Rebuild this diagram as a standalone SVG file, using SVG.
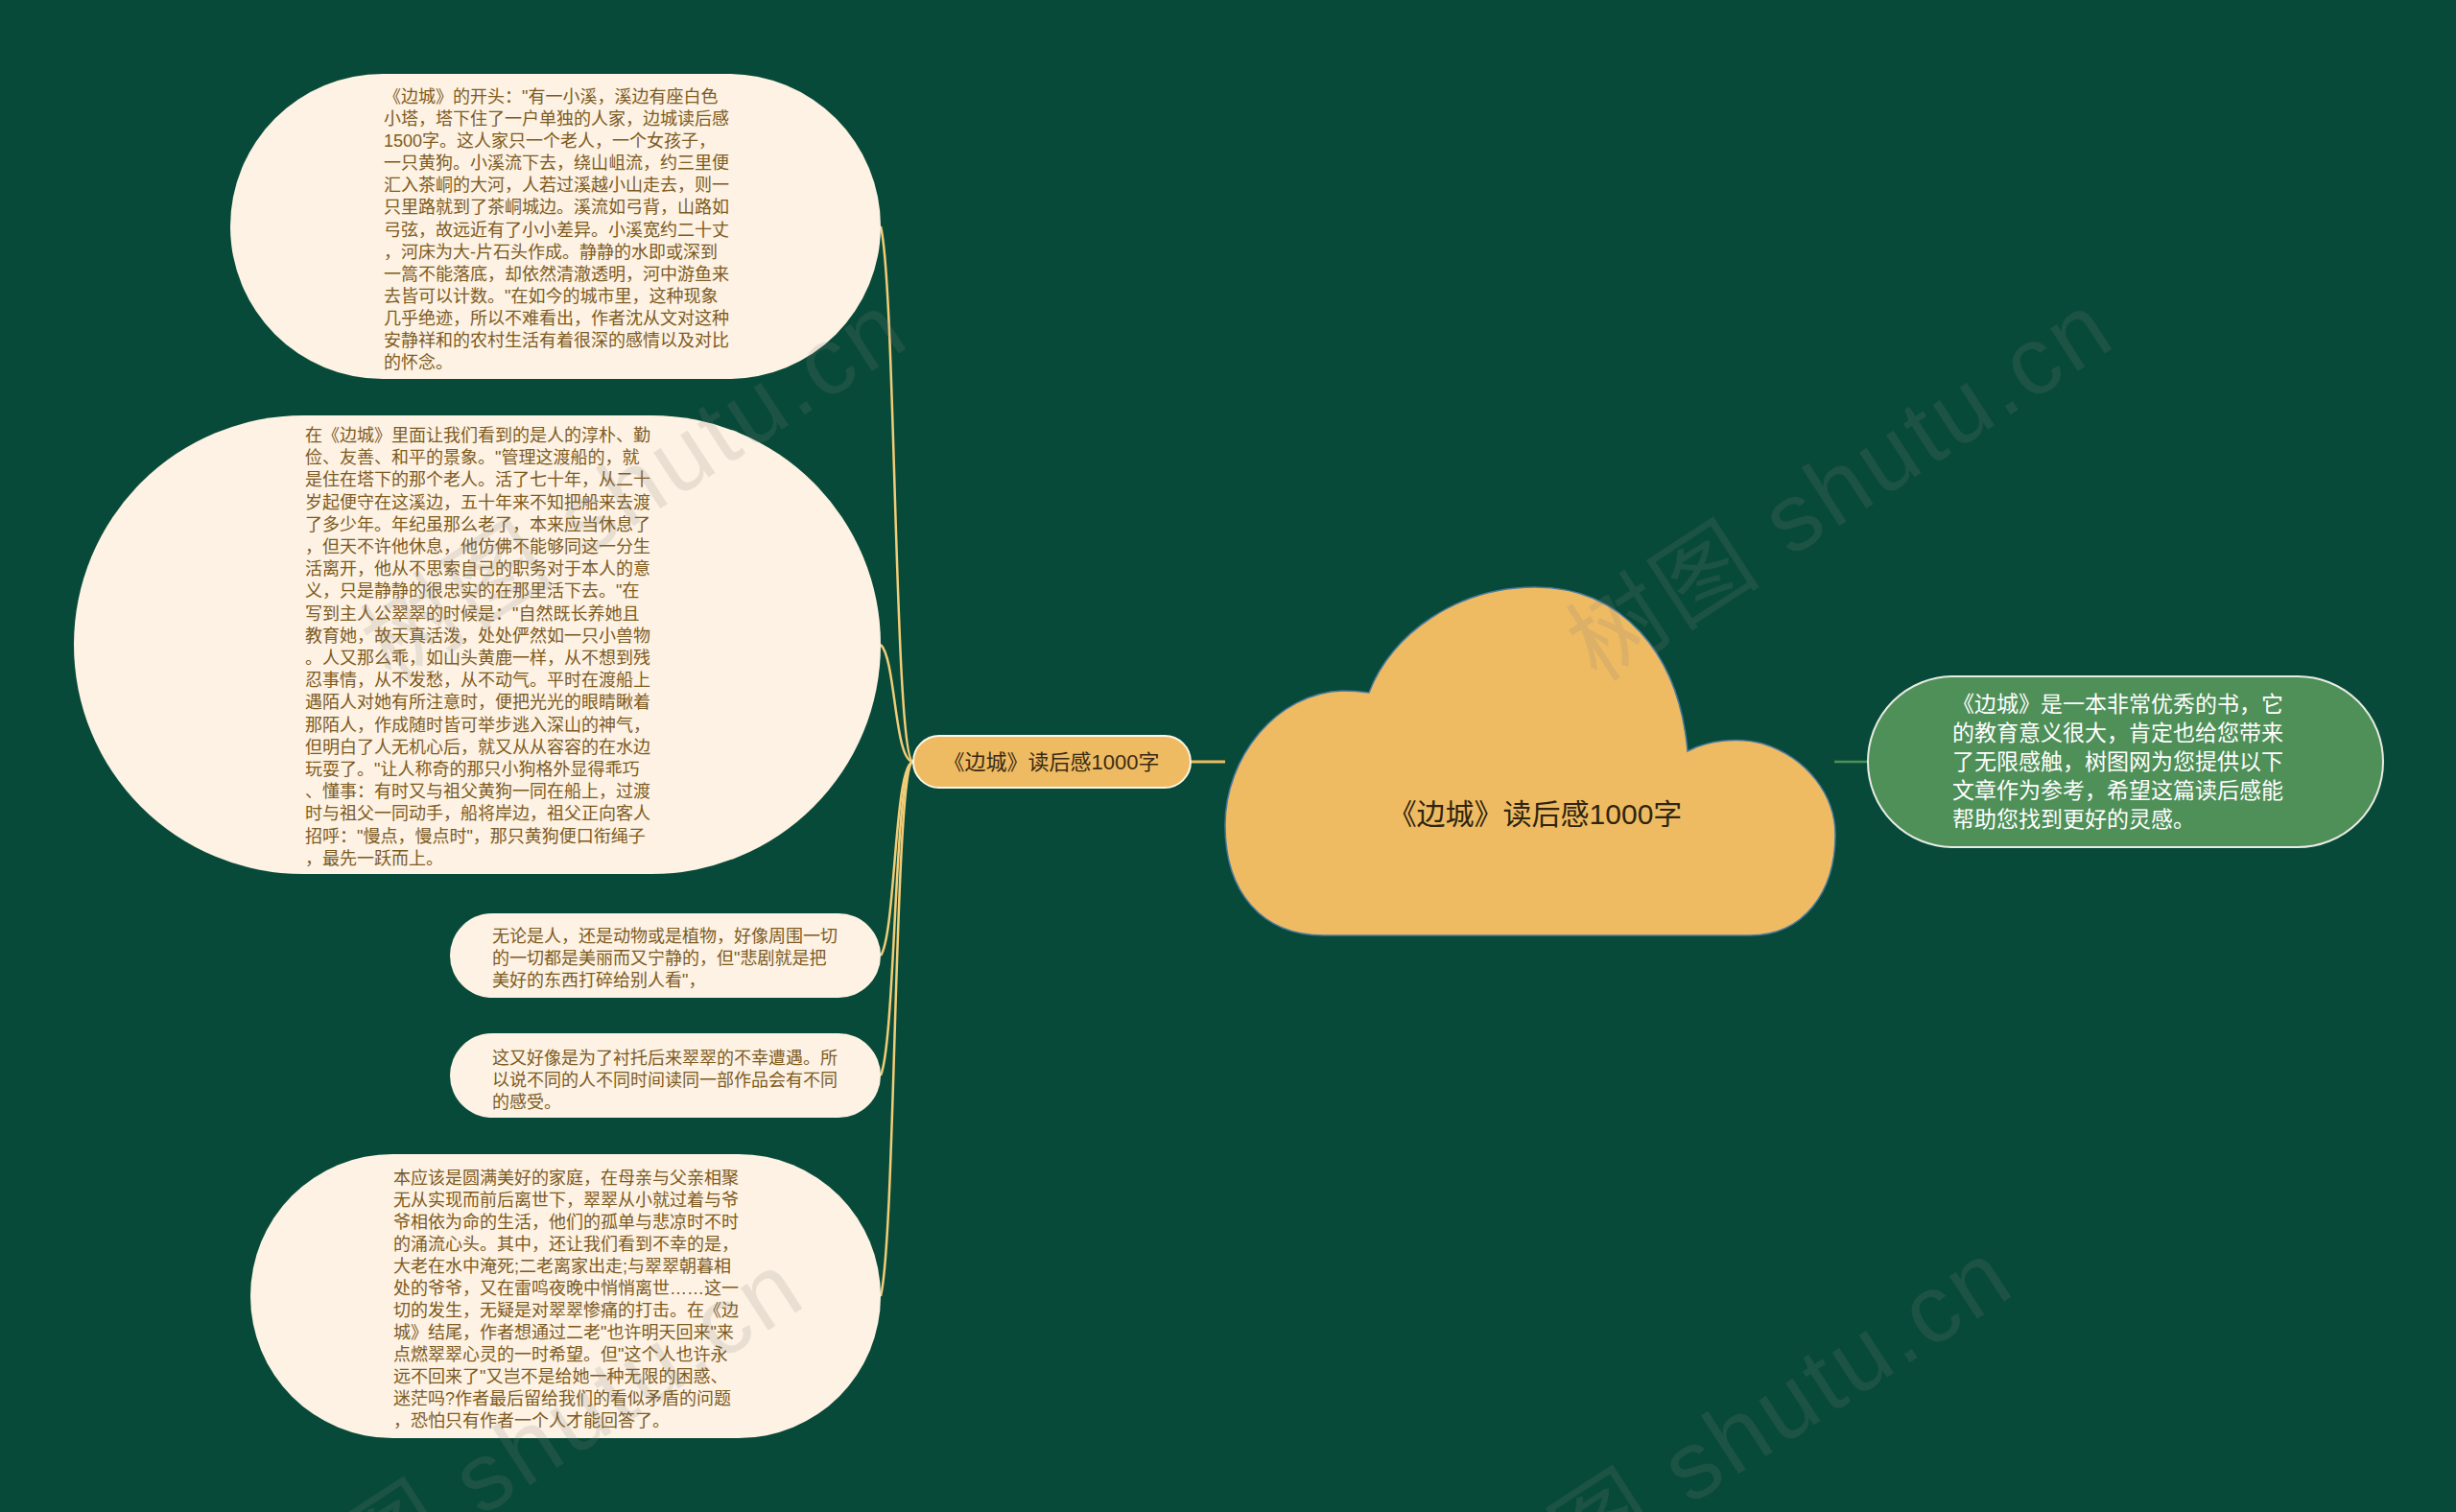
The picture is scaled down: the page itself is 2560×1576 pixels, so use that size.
<svg xmlns="http://www.w3.org/2000/svg" width="2560" height="1576" viewBox="0 0 2560 1576">
<style>
.t{font-family:"Liberation Sans","Noto Sans CJK SC",sans-serif}
.leaf{fill:#fdf2e3}
.lt{font-size:18px;fill:#7d5a1e}
.conn{fill:none;stroke:#f2cd78;stroke-width:2.5}
.wm{font-size:100px;letter-spacing:4px;fill:#808080;fill-opacity:0.17}
</style>
<rect x="0" y="0" width="2560" height="1576" fill="#084a39"/>
<g id="connectors">
<path class="conn" d="M952,794 C932,794 934,303 918,236"/>
<path class="conn" d="M952,794 C932,794 934,687 918,672"/>
<path class="conn" d="M952,794 C932,794 934,972 918,996"/>
<path class="conn" d="M952,794 C932,794 934,1082 918,1121"/>
<path class="conn" d="M952,794 C932,794 934,1284 918,1351"/>
<line x1="1241" y1="794" x2="1277" y2="794" stroke="#efbb62" stroke-width="3"/>
<line x1="1912" y1="794" x2="1947" y2="794" stroke="#4f9059" stroke-width="2.5"/>
</g>
<g id="center">
<path d="M1427,722 C1450,660 1520,612 1600,612 C1690,612 1750,680 1759,783 C1780,772 1810,768 1837,775 C1885,790 1913,830 1913,870 C1913,930 1880,975 1824,975 L1380,975 C1315,975 1277,930 1277,860 C1277,790 1330,722 1400,720 C1410,720 1420,721 1427,722 Z" fill="#efbb62" stroke="#4a7aa0" stroke-width="1.5"/>
<text class="t" x="1600" y="859" font-size="30" fill="#2e2410" text-anchor="middle">《边城》读后感1000字</text>
</g>
<g id="branch">
<rect x="952" y="767" width="289" height="54" rx="27" fill="#efbb62" stroke="#fdf6e8" stroke-width="2"/>
<text class="t" x="1096" y="802" font-size="22" fill="#3a2a14" text-anchor="middle">《边城》读后感1000字</text>
</g>
<g id="summary">
<rect x="1947" y="705" width="537" height="178" rx="89" fill="#4f9059" stroke="#e8ece4" stroke-width="2"/>
<text class="t" font-size="23" fill="#ffffff">
<tspan x="2035" y="742">《边城》是一本非常优秀的书，它</tspan>
<tspan x="2035" y="772">的教育意义很大，肯定也给您带来</tspan>
<tspan x="2035" y="802">了无限感触，树图网为您提供以下</tspan>
<tspan x="2035" y="832">文章作为参考，希望这篇读后感能</tspan>
<tspan x="2035" y="862">帮助您找到更好的灵感。</tspan>
</text>
</g>
<g id="leaf1">
<rect class="leaf" x="240" y="77" width="678" height="318" rx="159"/>
<text class="t lt">
<tspan x="400" y="107">《边城》的开头："有一小溪，溪边有座白色</tspan>
<tspan x="400" y="130">小塔，塔下住了一户单独的人家，边城读后感</tspan>
<tspan x="400" y="153">1500字。这人家只一个老人，一个女孩子，</tspan>
<tspan x="400" y="176">一只黄狗。小溪流下去，绕山岨流，约三里便</tspan>
<tspan x="400" y="199">汇入茶峒的大河，人若过溪越小山走去，则一</tspan>
<tspan x="400" y="222">只里路就到了茶峒城边。溪流如弓背，山路如</tspan>
<tspan x="400" y="246">弓弦，故远近有了小小差异。小溪宽约二十丈</tspan>
<tspan x="400" y="269">，河床为大-片石头作成。静静的水即或深到</tspan>
<tspan x="400" y="292">一篙不能落底，却依然清澈透明，河中游鱼来</tspan>
<tspan x="400" y="315">去皆可以计数。"在如今的城市里，这种现象</tspan>
<tspan x="400" y="338">几乎绝迹，所以不难看出，作者沈从文对这种</tspan>
<tspan x="400" y="361">安静祥和的农村生活有着很深的感情以及对比</tspan>
<tspan x="400" y="384">的怀念。</tspan>
</text>
</g>
<g id="leaf2">
<rect class="leaf" x="77" y="433" width="841" height="478" rx="239"/>
<text class="t lt">
<tspan x="318" y="460">在《边城》里面让我们看到的是人的淳朴、勤</tspan>
<tspan x="318" y="483">俭、友善、和平的景象。"管理这渡船的，就</tspan>
<tspan x="318" y="506">是住在塔下的那个老人。活了七十年，从二十</tspan>
<tspan x="318" y="530">岁起便守在这溪边，五十年来不知把船来去渡</tspan>
<tspan x="318" y="553">了多少年。年纪虽那么老了，本来应当休息了</tspan>
<tspan x="318" y="576">，但天不许他休息，他仿佛不能够同这一分生</tspan>
<tspan x="318" y="599">活离开，他从不思索自己的职务对于本人的意</tspan>
<tspan x="318" y="622">义，只是静静的很忠实的在那里活下去。"在</tspan>
<tspan x="318" y="646">写到主人公翠翠的时候是："自然既长养她且</tspan>
<tspan x="318" y="669">教育她，故天真活泼，处处俨然如一只小兽物</tspan>
<tspan x="318" y="692">。人又那么乖，如山头黄鹿一样，从不想到残</tspan>
<tspan x="318" y="715">忍事情，从不发愁，从不动气。平时在渡船上</tspan>
<tspan x="318" y="738">遇陌人对她有所注意时，便把光光的眼睛瞅着</tspan>
<tspan x="318" y="762">那陌人，作成随时皆可举步逃入深山的神气，</tspan>
<tspan x="318" y="785">但明白了人无机心后，就又从从容容的在水边</tspan>
<tspan x="318" y="808">玩耍了。"让人称奇的那只小狗格外显得乖巧</tspan>
<tspan x="318" y="831">、懂事：有时又与祖父黄狗一同在船上，过渡</tspan>
<tspan x="318" y="854">时与祖父一同动手，船将岸边，祖父正向客人</tspan>
<tspan x="318" y="878">招呼："慢点，慢点时"，那只黄狗便口衔绳子</tspan>
<tspan x="318" y="901">，最先一跃而上。</tspan>
</text>
</g>
<g id="leaf3">
<rect class="leaf" x="469" y="952" width="449" height="88" rx="44"/>
<text class="t lt">
<tspan x="513" y="982">无论是人，还是动物或是植物，好像周围一切</tspan>
<tspan x="513" y="1005">的一切都是美丽而又宁静的，但"悲剧就是把</tspan>
<tspan x="513" y="1028">美好的东西打碎给别人看"，</tspan>
</text>
</g>
<g id="leaf4">
<rect class="leaf" x="469" y="1077" width="449" height="88" rx="44"/>
<text class="t lt">
<tspan x="513" y="1109">这又好像是为了衬托后来翠翠的不幸遭遇。所</tspan>
<tspan x="513" y="1132">以说不同的人不同时间读同一部作品会有不同</tspan>
<tspan x="513" y="1155">的感受。</tspan>
</text>
</g>
<g id="leaf5">
<rect class="leaf" x="261" y="1203" width="657" height="296" rx="148"/>
<text class="t lt">
<tspan x="410" y="1234">本应该是圆满美好的家庭，在母亲与父亲相聚</tspan>
<tspan x="410" y="1257">无从实现而前后离世下，翠翠从小就过着与爷</tspan>
<tspan x="410" y="1280">爷相依为命的生活，他们的孤单与悲凉时不时</tspan>
<tspan x="410" y="1303">的涌流心头。其中，还让我们看到不幸的是，</tspan>
<tspan x="410" y="1326">大老在水中淹死;二老离家出走;与翠翠朝暮相</tspan>
<tspan x="410" y="1349">处的爷爷，又在雷鸣夜晚中悄悄离世……这一</tspan>
<tspan x="410" y="1372">切的发生，无疑是对翠翠惨痛的打击。在《边</tspan>
<tspan x="410" y="1395">城》结尾，作者想通过二老"也许明天回来"来</tspan>
<tspan x="410" y="1418">点燃翠翠心灵的一时希望。但"这个人也许永</tspan>
<tspan x="410" y="1441">远不回来了"又岂不是给她一种无限的困惑、</tspan>
<tspan x="410" y="1464">迷茫吗?作者最后留给我们的看似矛盾的问题</tspan>
<tspan x="410" y="1487">，恐怕只有作者一个人才能回答了。</tspan>
</text>
</g>
<g id="watermarks">
<text class="t wm" transform="translate(408,712) rotate(-33)">树图 shutu.cn</text>
<text class="t wm" transform="translate(1665,712) rotate(-33)">树图 shutu.cn</text>
<text class="t wm" transform="translate(300,1712) rotate(-33)">树图 shutu.cn</text>
<text class="t wm" transform="translate(1560,1700) rotate(-33)">树图 shutu.cn</text>
</g>
</svg>
